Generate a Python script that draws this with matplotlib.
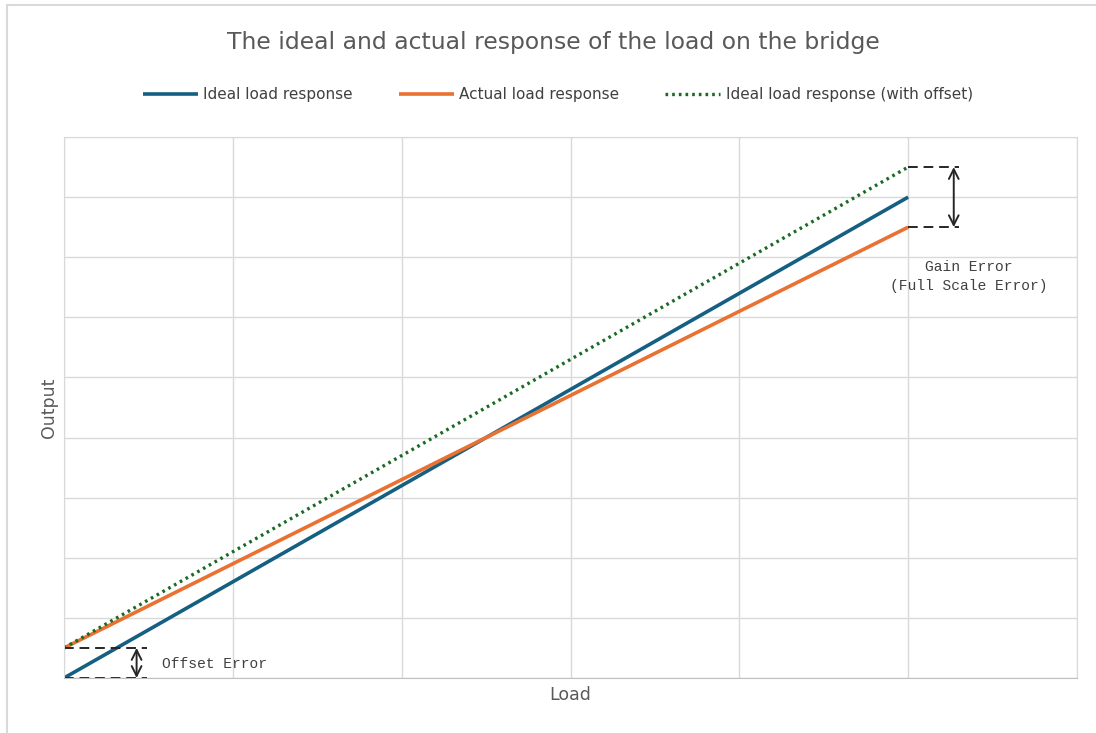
import matplotlib.pyplot as plt
from matplotlib.patches import Rectangle

# data (load in grid units, output in grid units)
load = [0, 5]
ideal = [0, 8]
actual = [0.5, 7.5]
ideal_offset = [0.5, 8.5]

series_labels = ["Ideal load response", "Actual load response", "Ideal load response (with offset)"]
colors = ["#156082", "#E97132", "#196B24"]

TITLE = "The ideal and actual response of the load on the bridge"

W, H = 1096, 733
fig = plt.figure(figsize=(W / 100, H / 100), dpi=100)
ax = fig.add_axes([64 / W, (H - 678) / H, (1077 - 64) / W, (678 - 137) / H])

ax.plot(load, ideal, color=colors[0], lw=2.6, label=series_labels[0], solid_capstyle="butt")
ax.plot(load, actual, color=colors[1], lw=2.6, label=series_labels[1], solid_capstyle="butt")
ax.plot(load, ideal_offset, color=colors[2], lw=2.4, ls=(0, (0.8, 1.2)), label=series_labels[2])

ax.set_xlim(0, 6)
ax.set_ylim(0, 9)
ax.set_xticks(range(0, 7))
ax.set_yticks(range(0, 10))
ax.tick_params(length=0, labelbottom=False, labelleft=False)
ax.grid(True, color="#D9D9D9", lw=1)
ax.set_axisbelow(True)
for s in ax.spines.values():
    s.set_color("#D9D9D9")
ax.spines["bottom"].set_color("#BFBFBF")

dash = dict(color="#262626", ls=(0, (5, 3)), lw=1.4, clip_on=False)
arrow = dict(arrowstyle="<->,head_length=0.7,head_width=0.35", color="#262626", lw=1.4,
             shrinkA=0, shrinkB=0)

# offset error annotation
ax.plot([0, 0.49], [0, 0], **dash)
ax.plot([0, 0.49], [0.5, 0.5], **dash)
ax.annotate("", xy=(0.43, 0.0), xytext=(0.43, 0.5), arrowprops=arrow)
ax.text(0.58, 0.24, "Offset Error", family="Liberation Mono", fontsize=10.5,
        color="#404040", va="center", ha="left")

# gain error annotation
ax.plot([5, 5.3], [8.5, 8.5], **dash)
ax.plot([5, 5.3], [7.5, 7.5], **dash)
ax.annotate("", xy=(5.27, 7.5), xytext=(5.27, 8.5), arrowprops=arrow)
ax.text(5.36, 6.96, "Gain Error\n(Full Scale Error)", family="Liberation Mono",
        fontsize=10.5, color="#404040", va="top", ha="center", linespacing=1.5)

ax.set_xlabel("Load", fontsize=12.5, color="#595959", labelpad=6)
ax.set_ylabel("Output", fontsize=12.5, color="#595959", labelpad=4)

fig.text(0.505, (H - 43) / H, TITLE, ha="center", va="center", fontsize=16.9, color="#595959")
fig.legend(loc="center", bbox_to_anchor=(0.509, (H - 95) / H), ncol=3, frameon=False,
           fontsize=11, labelcolor="#404040", handlelength=3.6, handletextpad=0.35,
           columnspacing=3.0)

# chart frame
fig.patches.append(Rectangle((7 / W, -0.02), 1.1, (H - 5) / H + 0.02, transform=fig.transFigure,
                             fill=False, edgecolor="#D9D9D9", lw=1.5))

fig.savefig("out.png", dpi=100)
